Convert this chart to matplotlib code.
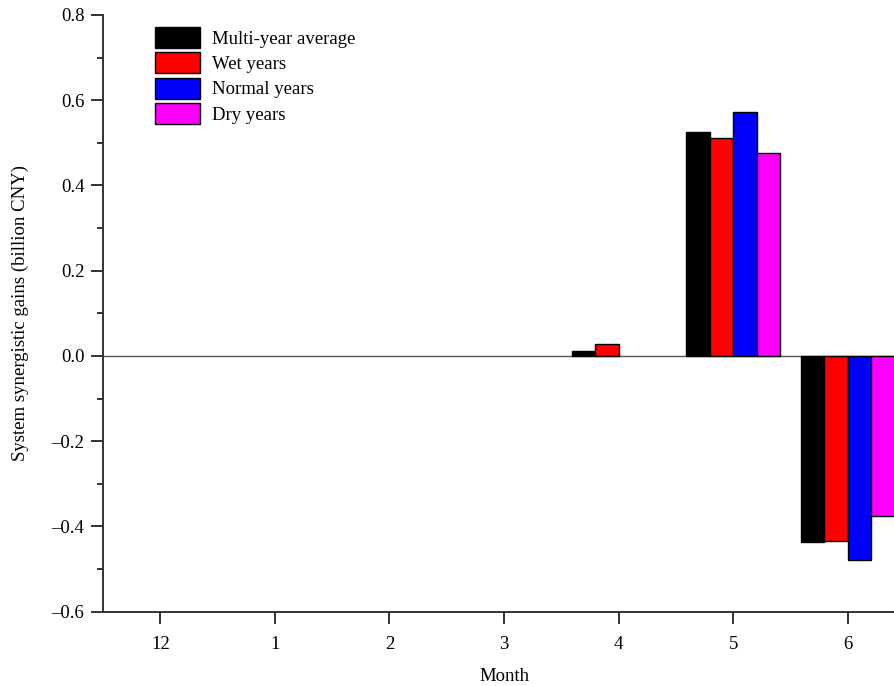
import numpy as np
import matplotlib
matplotlib.use('Agg')
import matplotlib.pyplot as plt
from matplotlib.ticker import FuncFormatter

plt.rcParams['font.family'] = ['Liberation Serif', 'DejaVu Serif']
plt.rcParams['font.size'] = 13.5

months = ['12', '1', '2', '3', '4', '5', '6']
series = ['Multi-year average', 'Wet years', 'Normal years', 'Dry years']
colors = ['#000000', '#ff0000', '#0000ff', '#ff00ff']

# values (billion CNY)
avg_vals = [0, 0, 0, 0, 0.012, 0.526, -0.436]
wet_vals = [0, 0, 0, 0, 0.027, 0.512, -0.434]
normal_vals = [0, 0, 0, 0, 0, 0.573, -0.479]
dry_vals = [0, 0, 0, 0, 0, 0.476, -0.375]
all_vals = [avg_vals, wet_vals, normal_vals, dry_vals]

fig = plt.figure(figsize=(8.95, 6.86), dpi=100)
ax = fig.add_axes([0.1151, 0.1083, 0.896, 0.870])

x = np.arange(len(months))
w = 0.205
for i, (vals, c, lab) in enumerate(zip(all_vals, colors, series)):
    v = np.array(vals, dtype=float)
    v[v == 0] = np.nan  # zero bars would leave an edge line
    ax.bar(x + (i - 1.5) * w, v, width=w, color=c, edgecolor='black',
           linewidth=1, label=lab, zorder=2)

ax.axhline(0, color='#555555', lw=1, zorder=1)

ax.set_xlim(-0.5, 6.5)
ax.set_ylim(-0.6, 0.8)
ax.set_xticks(x)
ax.set_xticklabels(months)
ax.set_yticks(np.arange(-0.6, 0.81, 0.2))
ax.set_yticks(np.arange(-0.5, 0.8, 0.2), minor=True)
ax.yaxis.set_major_formatter(FuncFormatter(lambda v, p: ('%.1f' % v).replace('-', '\u2013')))

for s in ['top', 'right']:
    ax.spines[s].set_visible(False)
for s in ['left', 'bottom']:
    ax.spines[s].set_linewidth(1.4)
    ax.spines[s].set_color('#333333')
ax.tick_params(axis='both', which='major', length=8.5, width=1.4, color='#333333')
ax.tick_params(axis='x', which='major', pad=9)
ax.tick_params(axis='y', which='major', pad=5)
ax.tick_params(axis='y', which='minor', length=4.5, width=1.4, color='#333333')

ax.set_xlabel('Month', labelpad=11)
ax.set_ylabel('System synergistic gains (billion CNY)', labelpad=16)

ax.legend(loc='upper left', bbox_to_anchor=(0.0648, 0.980), frameon=False,
          borderpad=0, borderaxespad=0, handlelength=2.4, handleheight=1.34,
          labelspacing=0.24, handletextpad=0.64)

fig.savefig('out.png', dpi=100)
